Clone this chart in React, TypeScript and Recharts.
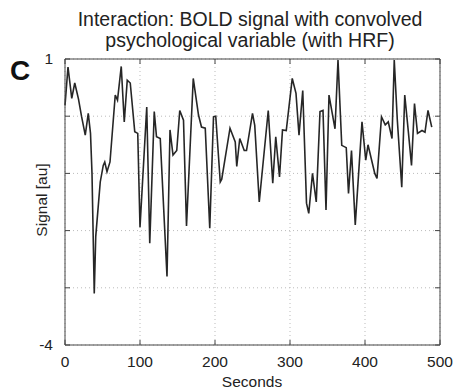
import { LineChart, Line, XAxis, YAxis, CartesianGrid, ReferenceLine } from 'recharts';

// seconds (x) and signal (y)
const seconds = [
  0, 4, 9, 13, 18, 22, 27, 31, 34, 36,
  39, 41, 47, 51, 53, 56, 60, 67, 70, 75,
  79, 83, 87, 93, 97, 100, 109, 113, 119, 122,
  127, 136, 140, 144, 149, 153, 158, 162, 171, 178,
  182, 187, 193, 198, 201, 207, 209, 220, 227, 229,
  233, 239, 242, 250, 253, 259, 271, 277, 281, 286,
  290, 295, 303, 308, 312, 317, 322, 325, 330, 335,
  340, 344, 348, 352, 360, 364, 369, 375, 378, 382,
  387, 396, 401, 404, 413, 416, 422, 427, 431, 436,
  439, 443, 449, 453, 458, 462, 466, 470, 476, 480,
  484, 489,
];

const signal = [
  0.19, 0.86, 0.31, 0.58, 0.3, 0.0, -0.33, 0.05, -0.3, -1.0,
  -3.1, -2.1, -1.15, -0.86, -0.8, -0.97, -0.8, 0.37, 0.28, 0.87,
  -0.1, 0.63, 0.58, -0.27, -0.3, -1.94, 0.16, -2.22, 0.08, -0.36,
  -0.39, -2.8, -0.24, -0.68, -0.6, 0.1, -0.07, -1.92, 0.66, 0.02,
  -0.19, -0.21, -1.96, -0.01, 0, -1.15, -1.1, -0.21, -0.45, -0.88,
  -0.39, -0.6, -0.6, 0.05, -0.16, -1.5, 0.1, -1.17, -0.36, -1.06,
  -0.24, -0.25, 0.66, 0.4, -0.33, 0.45, -1.52, -1.7, -1.0, -1.5,
  0.08, 0.1, -1.64, 0.37, -0.22, 0.98, -0.51, -0.55, -1.35, -0.6,
  -1.9, -0.1, -0.77, -0.5, -1.0, -1.09, -0.01, -0.15, -0.1, -0.39,
  0.98, -0.05, -1.24, 0.37, -0.3, -0.86, 0.22, -0.3, -0.25, -0.28,
  0.1, -0.19,
];

const xTicks = [0, 100, 200, 300, 400, 500];
const yTicks = [-4, -3, -2, -1, 0, 1];
const yLabelled = [1, -4];

const titleLines = ['Interaction: BOLD signal with convolved', 'psychological variable (with HRF)'];

const W = 456;
const H = 392;
const TOP = 59;
const BOTTOM = 345;
const LEFT = 65;
const RIGHT = 440;
const FONT = '"Liberation Sans", Arial, Helvetica, sans-serif';
const AXIS = '#444';

const data = seconds.map((t, i) => ({ t, v: signal[i] }));

const XTick = (props: any) => {
  const { x, payload } = props;
  return (
    <g>
      <line x1={x} x2={x} y1={BOTTOM} y2={BOTTOM - 5} stroke={AXIS} />
      <line x1={x} x2={x} y1={TOP} y2={TOP + 5} stroke={AXIS} />
      <text x={x} y={367} textAnchor="middle" fontSize={15.5} fontFamily={FONT} fill="#222">
        {payload.value}
      </text>
    </g>
  );
};

const YTick = (props: any) => {
  const { y, payload } = props;
  return (
    <g>
      <line x1={LEFT} x2={LEFT + 5} y1={y} y2={y} stroke={AXIS} />
      <line x1={RIGHT} x2={RIGHT - 5} y1={y} y2={y} stroke={AXIS} />
      {yLabelled.includes(payload.value) && (
        <text x={53} y={y + 5} textAnchor="end" fontSize={15.5} fontFamily={FONT} fill="#222">
          {payload.value}
        </text>
      )}
    </g>
  );
};

export default function App() {
  return (
    <div style={{ position: 'absolute', left: 0, top: 0, width: W, height: H, background: '#fff' }}>
      <LineChart
        width={W}
        height={H}
        data={data}
        margin={{ top: TOP, right: W - RIGHT, bottom: H - BOTTOM - 40, left: LEFT - 60 }}
      >
        <CartesianGrid stroke="#bbb" strokeDasharray="1 3" />
        <XAxis
          dataKey="t"
          type="number"
          domain={[0, 500]}
          ticks={xTicks}
          height={40}
          tickLine={false}
          tick={XTick}
          stroke={AXIS}
          interval={0}
        />
        <YAxis
          type="number"
          domain={[-4, 1]}
          ticks={yTicks}
          width={60}
          tickLine={false}
          tick={YTick}
          stroke={AXIS}
          interval={0}
        />
        <ReferenceLine y={1} stroke={AXIS} />
        <ReferenceLine x={500} stroke={AXIS} />
        <Line
          type="linear"
          dataKey="v"
          stroke="#262626"
          strokeWidth={1.6}
          dot={false}
          isAnimationActive={false}
        />
      </LineChart>
      <svg width={W} height={H} style={{ position: 'absolute', left: 0, top: 0, pointerEvents: 'none' }}>
        {titleLines.map((line, i) => (
          <text key={i} x={250} y={26 + i * 21} textAnchor="middle" fontSize={19.5} fontFamily={FONT} fill="#222">
            {line}
          </text>
        ))}
        <text x={10} y={80} fontSize={28} fontWeight="bold" fontFamily={FONT} fill="#111">
          C
        </text>
        <text
          x={0}
          y={0}
          transform={`translate(47, 200) rotate(-90)`}
          textAnchor="middle"
          fontSize={15.5}
          fontFamily={FONT}
          fill="#222"
        >
          Signal [au]
        </text>
        <text x={252} y={387} textAnchor="middle" fontSize={15.5} fontFamily={FONT} fill="#222">
          Seconds
        </text>
      </svg>
    </div>
  );
}
